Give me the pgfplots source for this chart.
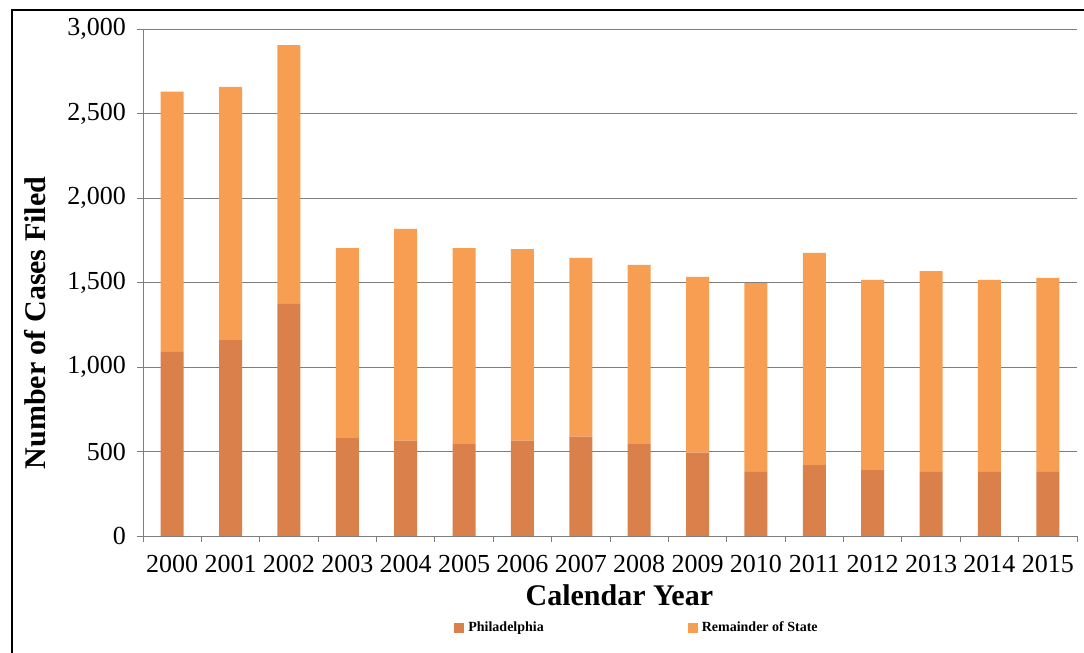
\documentclass[border=0pt]{standalone}
\usepackage{pgfplots}
\pgfplotsset{compat=1.18}
\usepackage{fontspec}
\setmainfont{Liberation Serif}
\definecolor{phila}{RGB}{218,128,74}
\definecolor{rest}{RGB}{247,158,82}
\definecolor{gridc}{RGB}{125,125,125}
\begin{document}
\begin{tikzpicture}[x=1pt,y=1pt]
\path[use as bounding box] (0,0) rectangle (542,326.5);
\draw[line width=1.4pt,black] (6,0) -- (6,321.5) -- (542,321.5);
\begin{axis}[
  at={(71.5pt,58.5pt)}, anchor=south west,
  scale only axis, width=467pt, height=253.5pt,
  ybar stacked, bar width=11.5pt,
  xmin=-0.5, xmax=15.5, ymin=0, ymax=3000,
  xtick={0,...,15},
  xticklabels={2000,2001,2002,2003,2004,2005,2006,2007,2008,2009,2010,2011,2012,2013,2014,2015},
  major x tick style={draw=none},
  minor xtick={-0.5,0.5,...,15.5},
  minor x tick style={gridc, thin},
  minor tick length=3pt,
  ytick={0,500,...,3000},
  major tick length=3pt,
  y tick style={gridc, thin},
  tick align=outside,
  axis x line*=bottom, axis y line*=left,
  axis line style={gridc, thin, -},
  ymajorgrids, grid style={gridc, thin},
  /pgf/number format/1000 sep={,},
  /pgf/number format/assume math mode=true,
  xticklabel style={font=\fontsize{13}{15}\selectfont, yshift=-3pt},
  yticklabel style={font=\fontsize{13}{15}\selectfont, xshift=-2pt},
  ylabel={\textbf{Number of Cases Filed}},
  ylabel style={font=\fontsize{15}{17}\selectfont, at={(ticklabel cs:0.42)}, anchor=south, yshift=4pt},
  xlabel={\textbf{Calendar Year}},
  xlabel style={font=\fontsize{15}{17}\selectfont, at={(ticklabel cs:0.51)}, anchor=north, yshift=1pt},
  legend columns=2,
  legend style={draw=none, at={(0.53,-0.182)}, anchor=center, font=\fontsize{7}{8}\selectfont\bfseries,
    /tikz/every even column/.append style={column sep=70pt}},
  legend image code/.code={\fill[#1,draw=none] (0pt,-2.5pt) rectangle (5pt,2.5pt);},
]
\addplot[fill=phila, draw=none] coordinates {
(0,1090) (1,1164) (2,1373) (3,584) (4,564) (5,544) (6,564) (7,588)
(8,548) (9,493) (10,380) (11,420) (12,390) (13,380) (14,380) (15,380)};
\addplot[fill=rest, draw=none] coordinates {
(0,1540) (1,1493) (2,1532) (3,1120) (4,1253) (5,1160) (6,1134) (7,1057)
(8,1056) (9,1040) (10,1117) (11,1255) (12,1125) (13,1188) (14,1135) (15,1147)};
\legend{Philadelphia, Remainder of State}
\end{axis}
\end{tikzpicture}
\end{document}
